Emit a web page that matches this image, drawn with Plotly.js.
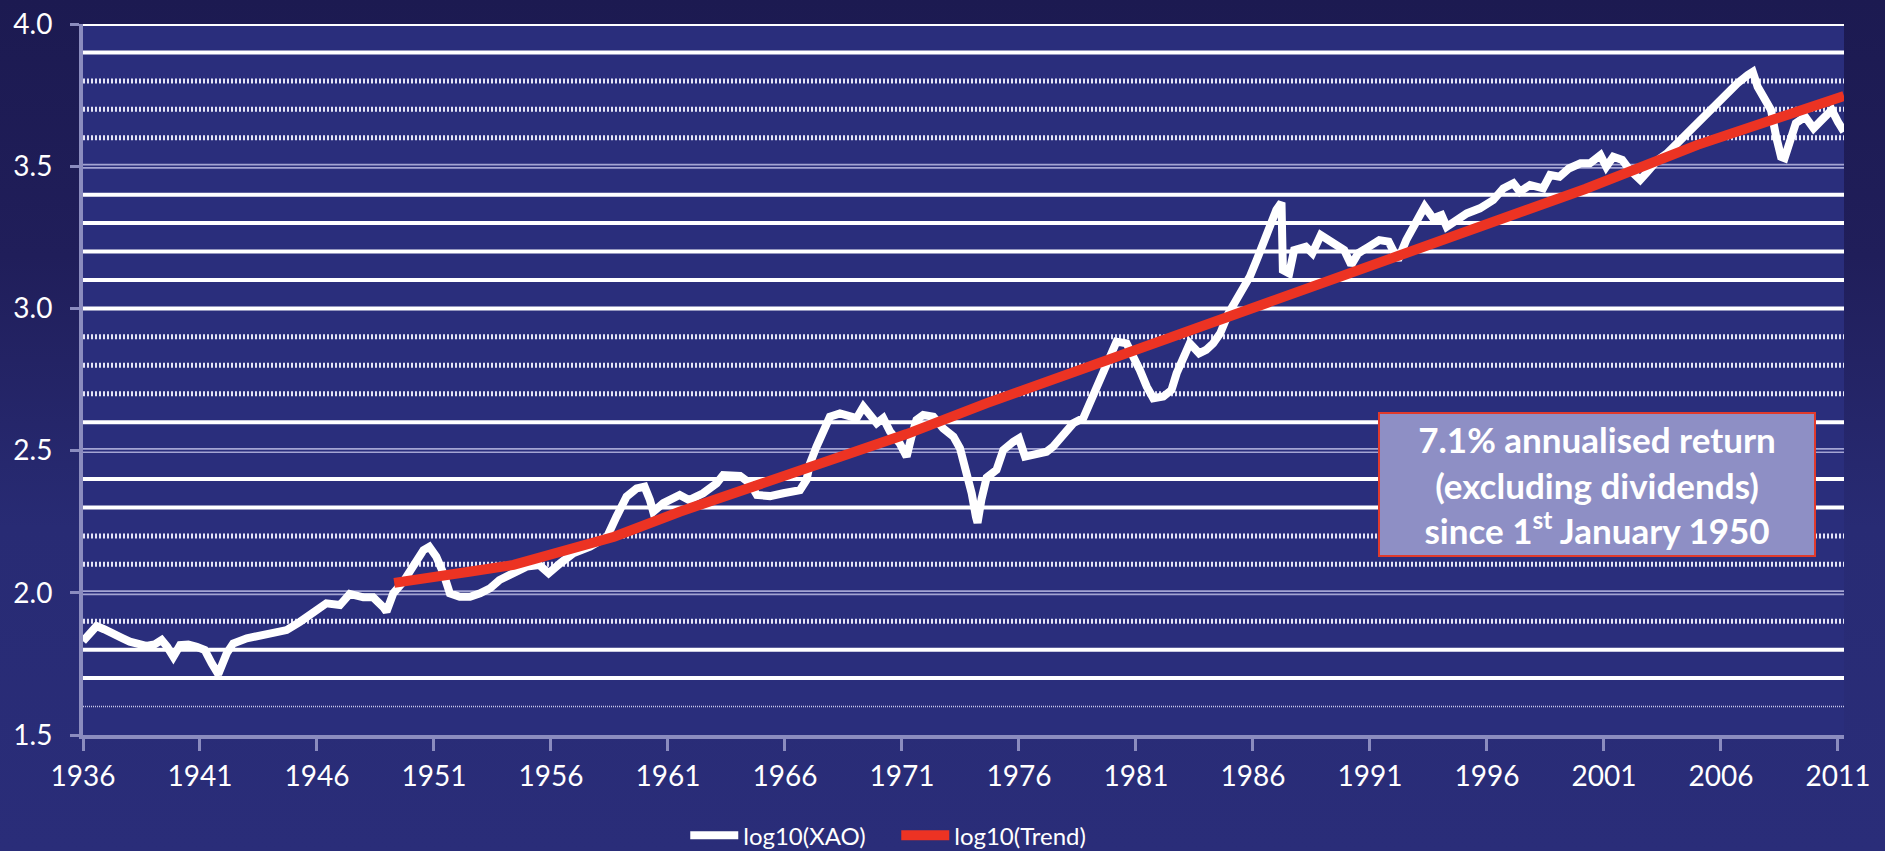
<!DOCTYPE html>
<html>
<head>
<meta charset="utf-8">
<script src="https://cdn.plot.ly/plotly-3.0.1.min.js"></script>
<style>
  html, body { margin: 0; padding: 0; width: 1885px; height: 851px; overflow: hidden;
    background: linear-gradient(to bottom, #1c1a51 0%, #201e5a 30%, #282b74 62%, #2a2d79 100%); }
  #chart { width: 1885px; height: 851px; }
</style>
</head>
<body>
<div id="chart"></div>
<script>
// ---- data ----
const xaoYears = [1936.00,1936.30,1936.58,1936.90,1937.30,1937.70,1938.00,1938.40,1938.70,1939.05,1939.36,1939.60,1939.86,1940.15,1940.50,1940.86,1941.20,1941.50,1941.78,1942.14,1942.42,1943.00,1943.85,1944.70,1945.27,1945.84,1946.40,1946.98,1947.40,1947.98,1948.40,1948.83,1948.97,1949.26,1949.69,1950.10,1950.55,1950.80,1951.10,1951.40,1951.68,1952.10,1952.54,1952.97,1953.40,1953.80,1954.40,1954.96,1955.50,1955.90,1956.40,1956.95,1957.67,1958.40,1958.80,1959.23,1959.66,1960.00,1960.23,1960.37,1960.80,1961.20,1961.50,1961.90,1962.50,1963.08,1963.36,1964.08,1964.50,1964.80,1965.36,1965.93,1966.64,1966.92,1967.07,1967.35,1967.64,1967.92,1968.35,1968.78,1969.06,1969.35,1969.56,1969.92,1970.20,1970.49,1970.90,1971.20,1971.41,1971.62,1971.91,1972.34,1972.76,1973.20,1973.48,1973.76,1973.98,1974.16,1974.23,1974.40,1974.62,1975.04,1975.33,1975.76,1976.00,1976.26,1976.75,1977.18,1977.46,1977.90,1978.32,1978.75,1979.03,1979.30,1979.60,1979.90,1980.17,1980.60,1980.90,1981.17,1981.46,1981.74,1982.17,1982.52,1982.74,1983.00,1983.30,1983.70,1984.00,1984.30,1984.60,1984.95,1985.30,1985.60,1985.87,1986.16,1986.45,1986.70,1987.00,1987.22,1987.28,1987.55,1987.76,1988.26,1988.54,1988.90,1989.25,1989.60,1989.90,1990.20,1990.50,1990.96,1991.40,1991.80,1992.20,1992.55,1992.98,1993.34,1993.70,1994.06,1994.28,1994.70,1995.14,1995.70,1996.27,1996.70,1997.13,1997.41,1997.84,1998.40,1998.70,1999.10,1999.50,2000.00,2000.40,2000.85,2001.10,2001.40,2001.78,2002.10,2002.55,2002.80,2003.30,2003.70,2004.13,2004.56,2005.00,2005.40,2005.85,2006.30,2006.70,2007.15,2007.36,2007.57,2007.86,2008.14,2008.36,2008.57,2008.72,2008.93,2009.20,2009.60,2009.96,2010.30,2010.74,2011.00,2011.26];
const xaoLog = [1.830,1.862,1.883,1.872,1.852,1.840,1.828,1.820,1.813,1.818,1.834,1.810,1.775,1.816,1.818,1.810,1.799,1.752,1.714,1.787,1.822,1.840,1.852,1.869,1.898,1.928,1.963,1.957,1.996,1.984,1.984,1.950,1.934,1.998,2.039,2.092,2.150,2.162,2.127,2.069,1.998,1.986,1.986,1.998,2.016,2.045,2.069,2.092,2.098,2.069,2.104,2.139,2.162,2.197,2.268,2.338,2.367,2.373,2.326,2.285,2.315,2.332,2.344,2.326,2.350,2.385,2.414,2.411,2.385,2.344,2.340,2.350,2.361,2.397,2.455,2.514,2.572,2.619,2.631,2.619,2.614,2.654,2.631,2.596,2.614,2.567,2.526,2.479,2.549,2.608,2.625,2.619,2.578,2.549,2.508,2.432,2.350,2.268,2.246,2.330,2.405,2.432,2.502,2.531,2.543,2.479,2.485,2.496,2.514,2.561,2.596,2.614,2.666,2.725,2.772,2.825,2.883,2.877,2.830,2.783,2.725,2.684,2.690,2.713,2.772,2.830,2.877,2.842,2.854,2.877,2.912,2.982,3.030,3.076,3.112,3.170,3.229,3.282,3.346,3.372,3.135,3.123,3.205,3.217,3.194,3.258,3.240,3.217,3.205,3.153,3.194,3.217,3.240,3.235,3.170,3.240,3.299,3.358,3.317,3.328,3.287,3.311,3.334,3.352,3.381,3.422,3.440,3.410,3.434,3.422,3.469,3.463,3.492,3.510,3.510,3.539,3.498,3.533,3.522,3.487,3.452,3.475,3.522,3.545,3.580,3.621,3.656,3.686,3.721,3.756,3.791,3.821,3.832,3.779,3.744,3.698,3.604,3.533,3.528,3.592,3.651,3.674,3.633,3.662,3.698,3.656,3.621];

const trendYears = [1949.3,1951.0,1952.5,1954.4,1956.2,1958.7,1961.5,1965.6,1971.2,1974.6,1980.2,1987.4,1993.4,2000.2,2005.0,2011.26];
const trendLog   = [2.035,2.053,2.074,2.098,2.139,2.197,2.285,2.400,2.558,2.666,2.830,3.041,3.223,3.420,3.575,3.747];

const xTickVals = [1936,1941,1946,1951,1956,1961,1966,1971,1976,1981,1986,1991,1996,2001,2006,2011];
const yTickVals = [1.5,2.0,2.5,3.0,3.5,4.0];

// gridline levels (styles differ in the original picture)
const solidGrid  = [1.7,1.8,2.3,2.4,2.6,3.0,3.1,3.2,3.3,3.4,3.9,4.0];
const dottedGrid = [1.9,2.1,2.2,2.7,2.8,2.9,3.6,3.7,3.8];
const doubleGrid = [2.0,2.5,3.5];
const thinGrid   = [1.6];

const seriesNames = ['log10(XAO)','log10(Trend)'];
const noteText = '<b>7.1% annualised return<br>(excluding dividends)<br>since 1<sup>st</sup> January 1950</b>';

// ---- build ----
const PLOT_BG = '#2a2e7c';
const AXIS_C = '#8b8cbf';
const FONT = 'Lato, "Open Sans", sans-serif';

const shapes = [];
function hline(y, line) {
  shapes.push({type:'line', xref:'paper', x0:0, x1:1, yref:'y', y0:y, y1:y, layer:'below', line});
}
thinGrid.forEach(v => hline(v, {color:'#c9c9ea', width:1.5, dash:'1px,1px'}));
dottedGrid.forEach(v => hline(v, {color:'#e4e4f6', width:5, dash:'2px,2px'}));
doubleGrid.forEach(v => { hline(v, {color:'#a4a5d3', width:5}); hline(v, {color:PLOT_BG, width:1.6}); });
solidGrid.forEach(v => hline(v, {color:'#ffffff', width:4}));

const traces = [
  {x: xaoYears, y: xaoLog, name: seriesNames[0], type:'scatter', mode:'lines',
   line:{color:'#ffffff', width:8}},
  {x: trendYears, y: trendLog, name: seriesNames[1], type:'scatter', mode:'lines',
   line:{color:'#ec3323', width:10}}
];

const layout = {
  width:1885, height:851,
  paper_bgcolor:'rgba(0,0,0,0)',
  plot_bgcolor: PLOT_BG,
  margin:{l:83, r:41, t:24, b:116},
  showlegend:true,
  legend:{orientation:'h', xref:'paper', x:0.342, xanchor:'left', yref:'container', y:0.018, yanchor:'middle',
    font:{family:FONT, size:24, color:'#ffffff'}, itemwidth:48, entrywidth:148, bgcolor:'rgba(0,0,0,0)'},
  xaxis:{range:[1936, 2011.26], tickvals:xTickVals, ticktext:xTickVals.map(String),
    showgrid:false, zeroline:false, showline:true, linecolor:AXIS_C, linewidth:4,
    ticks:'outside', ticklen:12, tickwidth:3, tickcolor:AXIS_C, ticklabelstandoff:1,
    tickfont:{family:FONT, size:28, color:'#ffffff'}},
  yaxis:{range:[1.5, 4.0], tickvals:yTickVals, ticktext:yTickVals.map(v=>v.toFixed(1)),
    showgrid:false, zeroline:false, showline:true, linecolor:AXIS_C, linewidth:4,
    ticks:'outside', ticklen:9, tickwidth:3, tickcolor:AXIS_C, ticklabelstandoff:12,
    tickfont:{family:FONT, size:28, color:'#ffffff'}},
  shapes: shapes,
  annotations:[{xref:'paper', yref:'paper', x:0.86, y:0.352, xanchor:'center', yanchor:'middle',
    text: noteText, showarrow:false, align:'center', width:434, height:141,
    bgcolor:'#8e8fc5', bordercolor:'#e03a2c', borderwidth:2, borderpad:0,
    font:{family:FONT, size:35, color:'#ffffff'}}]
};

Plotly.newPlot('chart', traces, layout, {displayModeBar:false, staticPlot:true});
</script>
</body>
</html>
